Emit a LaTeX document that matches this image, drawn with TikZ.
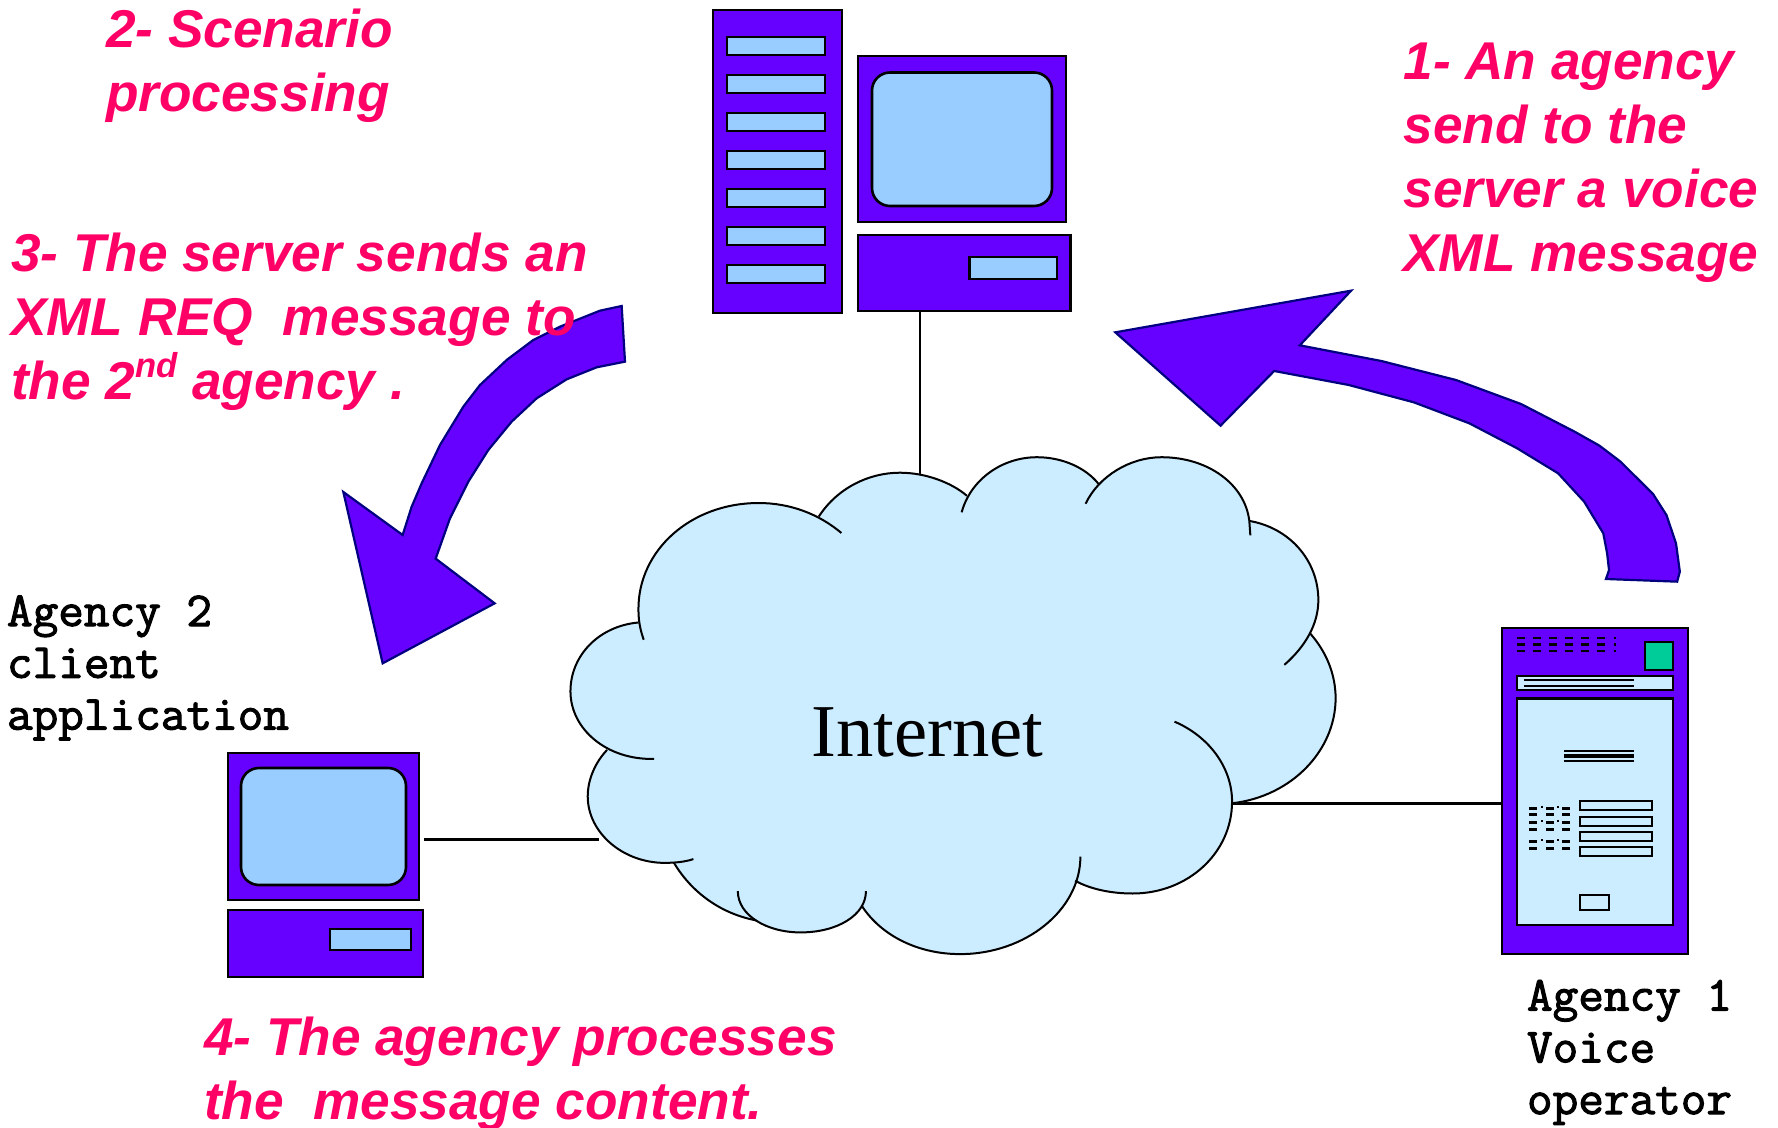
\documentclass[tikz,border=0pt]{standalone}
\usepackage{fontspec}
\setmainfont{Liberation Sans}
\newfontfamily\arialf{Liberation Sans}
\newfontfamily\timesf{Liberation Serif}
\newfontfamily\courf[FakeBold=2.2,FakeStretch=1.02]{Latin Modern Mono}
\definecolor{violetfill}{HTML}{6600FF}
\definecolor{slotfill}{HTML}{99CCFF}
\definecolor{paleblue}{HTML}{CCECFF}
\definecolor{pinktext}{HTML}{FF0066}
\definecolor{tealbtn}{HTML}{00CC99}
\definecolor{arrowline}{HTML}{000080}
\tikzset{
  pxnode/.style={draw=black,line width=1.3pt,inner sep=0pt,outer sep=0pt},
  casebox/.style={pxnode,fill=violetfill},
  slotbox/.style={pxnode,fill=slotfill},
  screenbox/.style={pxnode,fill=slotfill,rounded corners=9pt},
  palebox/.style={pxnode,fill=paleblue},
  tealbox/.style={pxnode,fill=tealbtn},
  wire/.style={draw=black,line width=1.15pt},
  cloudedge/.style={draw=black,line width=1pt},
  bigarrow/.style={draw=arrowline,fill=violetfill,line width=1.1pt,line join=miter},
  steptext/.style={anchor=north west,inner sep=0pt,outer sep=0pt,align=left,text=pinktext,
    font=\arialf\bfseries\itshape\fontsize{26.6}{32}\selectfont},
  monotext/.style={anchor=north west,inner sep=0pt,outer sep=0pt,align=left,text=black,
    font=\courf\fontsize{24.4}{25.9}\selectfont},
}
\newcommand\pxbox[6]{\node[#1,minimum width={(#5-#3)*0.5pt},minimum height={(#6-#4)*0.5pt}] (#2) at ({(#3+#5)/2},{(#4+#6)/2}) {};}
\newcommand\cloudlobes[1]{%
  #1{(160,580) .. controls (152,545) and (150,520) .. (150,490) .. controls (150,320) and (250,183) .. (380,183) .. controls (440,183) and (495,215) .. (538,270)}%
  #1{(495,222) .. controls (530,140) and (590,95) .. (650,95) .. controls (700,95) and (750,125) .. (778,162)}%
  #1{(768,210) .. controls (785,115) and (845,50) .. (912,50) .. controls (960,50) and (1005,80) .. (1030,128)}%
  #1{(1005,185) .. controls (1030,105) and (1090,50) .. (1150,50) .. controls (1240,50) and (1310,130) .. (1318,235) -- (1320,277)}%
  #1{(1318,235) .. controls (1395,255) and (1450,350) .. (1450,465) .. controls (1450,535) and (1425,600) .. (1385,653)}%
  #1{(1435,563) .. controls (1465,615) and (1483,680) .. (1483,750) .. controls (1483,900) and (1400,1035) .. (1285,1055)}%
  #1{(1175,818) .. controls (1240,860) and (1285,950) .. (1285,1050) .. controls (1285,1200) and (1200,1317) .. (1095,1317) .. controls (1055,1317) and (1015,1305) .. (985,1280)}%
  #1{(995,1210) .. controls (995,1365) and (890,1493) .. (765,1493) .. controls (685,1493) and (615,1440) .. (578,1355)}%
  #1{(585,1310) .. controls (585,1380) and (530,1430) .. (460,1430) .. controls (395,1430) and (340,1380) .. (340,1310)}%
  #1{(375,1395) .. controls (305,1375) and (250,1310) .. (218,1228)}%
  #1{(255,1217) .. controls (240,1225) and (220,1228) .. (200,1228) .. controls (120,1228) and (53,1140) .. (53,1035) .. controls (53,985) and (68,935) .. (90,900)}%
  #1{(180,926) .. controls (90,930) and (20,840) .. (20,730) .. controls (20,625) and (75,540) .. (150,530)}%
}
\newcommand\lobefill[1]{\filldraw[fill=paleblue,draw=paleblue,line width=.6pt] #1 -- (750,750) -- cycle;}
\newcommand\lobestroke[1]{\draw[cloudedge] #1;}
\begin{document}
\begin{tikzpicture}[x=.5pt,y=-.5pt]
\useasboundingbox (0,0) rectangle (1778,1128);

% named free ends of the wires
\coordinate (cloudtop) at (920,487);
\coordinate (cloudleft) at (599,839.5);
\coordinate (cloudright) at (1232,803.5);
\coordinate (clientport) at (424,839.5);

% server
\pxbox{casebox}{tower}{713}{10}{842}{313}
\foreach \y [count=\i] in {37,75,113,151,189,227,265}{
  \pxbox{slotbox}{slot\i}{727}{\y}{825}{\y+18}
}
\pxbox{casebox}{srvmon}{858}{56}{1066}{222}
\pxbox{screenbox}{srvscreen}{872}{72.5}{1052}{206}
\pxbox{casebox}{srvbase}{858}{235}{1070.5}{311}
\pxbox{slotbox}{srvdrive}{969.5}{257}{1057}{279}

% client
\pxbox{casebox}{clientmon}{228}{753}{419}{900}
\pxbox{screenbox}{clientscreen}{241}{768}{406}{885}
\pxbox{casebox}{clientbase}{228}{910}{423}{977}
\pxbox{slotbox}{clientdrive}{330}{929}{411}{950}

% voice agency device
\pxbox{casebox}{agency}{1502}{628}{1688}{954}
\pxbox{tealbox}{agencyled}{1645}{642}{1673}{670}
\pxbox{palebox}{agencybar}{1517}{676}{1673}{690}
\pxbox{palebox}{agencypanel}{1517}{698.5}{1673}{925}
\foreach \y [count=\i] in {801,817,832,847}{
  \pxbox{palebox}{field\i}{1580}{\y}{1652}{\y+9}
}
\pxbox{palebox}{agencybtn}{1580}{895}{1609}{910}
\foreach \y in {680,686}{\draw[black,line width=1.2pt] (1524,\y) -- (1634,\y);}
\draw[black,line width=.7pt] (1564,751) -- (1634,751) (1564,761) -- (1634,761);
\draw[black,line width=1.7pt] (1564,756) -- (1634,756);
\foreach \y in {638,644.5,651}{
  \foreach \x in {1517,1533,1549,1565,1581,1597}{
    \draw[black,line width=1.2pt] (\x,\y) -- (\x+8,\y);
  }
  \draw[black,line width=1.2pt] (1613.5,\y) -- (1616,\y);
}
\foreach \y in {808,814,822,829,841.5,848}{
  \foreach \x in {1529,1546,1562}{
    \draw[black,line width=1.5pt] (\x,\y) -- (\x+8,\y);
  }
}
\foreach \y in {807,821,840}{
  \foreach \x in {1541,1557}{
    \draw[black,line width=1.2pt] (\x,\y) -- (\x+2,\y);
  }
}

% wires
\draw[wire] (cloudtop |- srvbase.south) -- (cloudtop);
\draw[wire] (clientport) -- (cloudleft);
\draw[wire] (cloudright) -- (agency.west |- cloudright);

% cloud
\begin{scope}[shift={(560,440)},xscale=1/1.912,yscale=1/2.904]
  \cloudlobes{\lobefill}
  \fill[paleblue] (150,530) -- (495,222) -- (778,162) -- (1030,128) -- (1318,235) -- (1435,563) -- (1285,1055) -- (985,1280) -- (578,1355) -- (375,1395) -- (218,1228) -- (90,900) -- cycle;
  \cloudlobes{\lobestroke}
\end{scope}
\node[inner sep=0pt,outer sep=0pt,anchor=base west,text=black,font=\timesf\fontsize{37.3}{37}\selectfont] (internet) at (811.5,756) {Internet};

% block arrows
\begin{scope}[shift={(1100,280)},xscale=1/2.613,yscale=1/3]
  \draw[bigarrow] (40,157) -- (656,32) -- (522,196) -- (735,243) -- (930,300) -- (1100,372) -- (1240,455) -- (1305,497) -- (1360,545) -- (1445,642) -- (1480,705) -- (1505,790) -- (1515,875) -- (1508,905) -- (1322,897) -- (1330,870) -- (1325,820) -- (1315,760) -- (1265,665) -- (1197,580) -- (1090,505) -- (965,430) -- (820,367) -- (650,315) -- (455,273) -- (315,437) -- cycle;
\end{scope}
\begin{scope}[shift={(320,290)},xscale=1/3,yscale=1/3]
  \draw[bigarrow] (905,48) -- (915,215) -- (830,232) -- (740,268) -- (650,325) -- (575,395) -- (505,480) -- (445,575) -- (390,685) -- (347,806) -- (524,940) -- (188,1120) -- (70,606) -- (248,735) -- (275,650) -- (305,580) -- (360,465) -- (430,350) -- (480,285) -- (560,210) -- (640,150) -- (720,110) -- (840,62) -- cycle;
\end{scope}

% labels
\node[steptext] (step1) at (1403.5,39.5) {\rule{0pt}{20pt}1- An agency\\send to the\\server a voice\\XML message};
\node[steptext] (step2) at (106,8) {\rule{0pt}{20pt}2- Scenario\\processing};
\node[steptext] (step3) at (11,232) {\rule{0pt}{20pt}3- The server sends an\\XML REQ\ \ message to\\the 2\raisebox{.42em}{\fontsize{17.3}{18}\selectfont nd} agency .};
\node[steptext] (step4) at (204,1015.5) {\rule{0pt}{20pt}4- The agency processes\\the\ \ message content.};
\node[monotext] (agency2label) at (7,594) {\rule{0pt}{16pt}Agency 2\\client\\application};
\node[monotext] (agency1label) at (1527,978.5) {\rule{0pt}{16pt}Agency 1\\Voice\\operator};
\end{tikzpicture}
\end{document}
